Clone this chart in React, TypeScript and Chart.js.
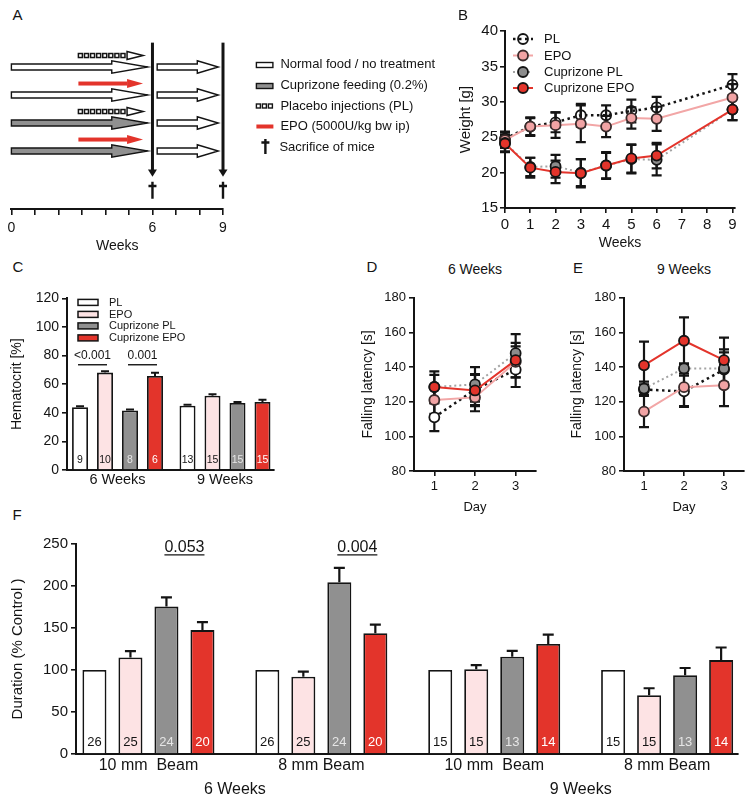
import React, { useEffect, useRef } from "react";
import { Chart, registerables } from "chart.js";

Chart.register(...registerables);

const FONT = "'Liberation Sans', Arial, Helvetica, sans-serif";
const INK = "#141414";
const RED = "#e3342b";
const PINK_MARK = "#f1a3a4";
const PINK_LINE = "#f2a6a6";
const PINK_BAR = "#fde3e4";
const GRAY_MARK = "#8c8c8c";
const GRAY_LINE = "#a3a3a3";
const GRAY_BAR = "#909090";

// ---------------- Panel A (study design) ----------------
const weeksA = [0, 1, 2, 3, 4, 5, 6, 7, 8, 9];
const weekLabelsA = ["0", "", "", "", "", "", "6", "", "", "9"];
const groupDiet = ["normal", "normal", "cuprizone", "cuprizone"];
const groupInjection = ["placebo", "epo", "placebo", "epo"];
const dietWeeks = [0, 5.8];
const recoveryWeeks = [6.2, 8.8];
const injectionWeeks = [2.85, 5.6];
const sacrificeWeeks = [6, 9];
const legendA = [
  "Normal food / no treatment",
  "Cuprizone feeding (0.2%)",
  "Placebo injections (PL)",
  "EPO (5000U/kg bw ip)",
  "Sacrifice of mice",
];

// ---------------- Panel B (weight) ----------------
const seriesNames = ["PL", "EPO", "Cuprizone PL", "Cuprizone EPO"];
const weeksB = [0, 1, 2, 3, 4, 5, 6, 9];
const weekTicksB = [0, 1, 2, 3, 4, 5, 6, 7, 8, 9];
const weightTicks = [15, 20, 25, 30, 35, 40];
const weightPL = [24.8, 26.5, 27.1, 28.1, 28.1, 28.7, 29.2, 32.4];
const weightPLErr = [1.0, 1.3, 1.4, 1.6, 1.4, 1.6, 1.5, 1.5];
const weightEPO = [24.6, 26.5, 26.7, 26.9, 26.5, 27.7, 27.6, 30.6];
const weightEPOErr = [1.1, 1.2, 1.8, 2.6, 1.5, 1.5, 1.7, 1.9];
const weightCupPL = [24.2, 20.8, 20.9, 20.0, 21.0, 21.9, 21.8, 28.9];
const weightCupPLErr = [1.2, 1.3, 1.6, 1.9, 1.8, 2.0, 2.2, 1.5];
const weightCupEPO = [24.1, 20.7, 20.1, 19.9, 21.0, 22.0, 22.4, 28.9];
const weightCupEPOErr = [1.2, 1.4, 1.6, 2.0, 1.9, 2.0, 1.8, 1.5];

// ---------------- Panel C (hematocrit) ----------------
const hctGroups = ["6 Weeks", "9 Weeks"];
const hctGroupIdx = [0, 1];
const hctTicks = [0, 20, 40, 60, 80, 100, 120];
const hctPL = [43.9, 45.0];
const hctPLErr = [0.6, 0.7];
const hctEPO = [68.1, 51.9];
const hctEPOErr = [1.0, 1.1];
const hctCupPL = [41.6, 46.9];
const hctCupPLErr = [0.7, 0.6];
const hctCupEPO = [65.8, 47.6];
const hctCupEPOErr = [2.2, 1.6];
const hctNPL = [9, 13];
const hctNEPO = [10, 15];
const hctNCupPL = [8, 15];
const hctNCupEPO = [6, 15];
const hctSigLabels = ["<0.001", "0.001"];
const hctSigGroup = [0, 0];
const hctSigFirst = [0, 2];
const hctSigSecond = [1, 3];
const hctSigLevel = [73.6, 73.6];

// ---------------- Panels D / E (rotarod) ----------------
const days = [1, 2, 3];
const latencyTicks = [80, 100, 120, 140, 160, 180];
const lat6PL = [111, 127, 138.5];
const lat6PLErr = [8, 9, 10];
const lat6EPO = [121, 122.5, 143];
const lat6EPOErr = [8, 8, 9];
const lat6CupPL = [128.5, 130, 148];
const lat6CupPLErr = [7, 10, 11];
const lat6CupEPO = [128.5, 126.5, 144];
const lat6CupEPOErr = [9, 9, 10];
const lat9PL = [127, 126, 138.5];
const lat9PLErr = [3, 9, 10];
const lat9EPO = [114.3, 128.4, 129.5];
const lat9EPOErr = [9, 11, 12];
const lat9CupPL = [127.6, 139.2, 139.2];
const lat9CupPLErr = [4, 3, 11];
const lat9CupEPO = [141, 155.2, 144];
const lat9CupEPOErr = [13.7, 13.5, 13];

// ---------------- Panel F (beam walking) ----------------
const beamGroups = ["10 mm  Beam", "8 mm Beam", "10 mm  Beam", "8 mm Beam"];
const beamGroupIdx = [0, 1, 2, 3];
const beamWeek = [0, 0, 1, 1];
const weekNames = ["6 Weeks", "9 Weeks"];
const durTicks = [0, 50, 100, 150, 200, 250];
const durPL = [100, 100, 100, 100];
const durPLErr = [0, 0, 0, 0];
const durEPO = [115, 92, 101, 70];
const durEPOErr = [7.4, 6, 4.7, 8.3];
const durCupPL = [175.5, 204.5, 115.7, 93.7];
const durCupPLErr = [11, 17, 7, 8.7];
const durCupEPO = [147.5, 143.7, 131, 111.8];
const durCupEPOErr = [9.5, 10.3, 11, 15];
const durNPL = [26, 26, 15, 15];
const durNEPO = [25, 25, 15, 15];
const durNCupPL = [24, 24, 13, 13];
const durNCupEPO = [20, 20, 14, 14];
const durSigLabels = ["0.053", "0.004"];
const durSigGroup = [0, 1];
const durSigFirst = [2, 2];
const durSigSecond = [3, 3];
const durSigLevel = [237, 237];

// ---------------- helpers ----------------
function makeAxis(o: any) {
  const isY = o.position === "left";
  return {
    type: "linear",
    position: o.position,
    display: o.display ?? true,
    min: o.min,
    max: o.max,
    bounds: "data",
    reverse: !!o.reverse,
    offset: false,
    z: o.z ?? 0,
    border: { display: true, color: INK, width: 2 },
    grid: {
      display: true,
      drawOnChartArea: false,
      drawTicks: o.drawTicks ?? true,
      tickLength: o.tickLength ?? 5,
      color: INK,
      lineWidth: 1.6,
      offset: false,
    },
    ticks: {
      color: INK,
      font: { family: FONT, size: o.fontSize ?? 13 },
      padding: o.padding ?? 3,
      autoSkip: false,
      maxRotation: 0,
      minRotation: 0,
      callback: (v: any, i: number) => (o.labels ? o.labels[i] : String(v)),
    },
    title: {
      display: !!o.title,
      text: o.title,
      color: INK,
      font: { family: FONT, size: o.titleSize ?? 14 },
      padding: 0,
    },
    afterBuildTicks: (s: any) => {
      s.ticks = (o.ticks || []).map((v: number) => ({ value: v }));
    },
    afterFit: (s: any) => {
      if (isY) s.width = o.size;
      else s.height = o.size;
    },
  };
}

function baseOptions(pad: any) {
  return {
    responsive: false,
    animation: false,
    devicePixelRatio: 1,
    events: [],
    layout: { padding: { top: 0, right: 0, left: 0, bottom: 0, ...pad }, autoPadding: false },
  };
}

const errorBarPlugin = {
  id: "errorBars",
  beforeDatasetsDraw(chart: any, _a: any, o: any) {
    if (o && o.under) drawErrors(chart, o);
  },
  afterDatasetsDraw(chart: any, _a: any, o: any) {
    if (o && !o.under) drawErrors(chart, o);
  },
};

function drawErrors(chart: any, o: any) {
  const ctx = chart.ctx;
  const ys = chart.scales.y;
  ctx.save();
  ctx.strokeStyle = INK;
  ctx.lineWidth = o.lineWidth;
  ctx.lineCap = "butt";
  chart.data.datasets.forEach((ds: any, di: number) => {
    if (!ds.errorBars) return;
    const meta = chart.getDatasetMeta(di);
    meta.data.forEach((el: any, i: number) => {
      const err = ds.errorBars[i];
      if (!err) return;
      const raw = ds.data[i];
      const v = typeof raw === "number" ? raw : raw.y;
      const x = el.x;
      const yTop = ys.getPixelForValue(v + err);
      const yBot = ys.getPixelForValue(o.upOnly ? v : v - err);
      const c = o.cap / 2;
      ctx.beginPath();
      ctx.moveTo(x, yBot);
      ctx.lineTo(x, yTop);
      ctx.moveTo(x - c, yTop);
      ctx.lineTo(x + c, yTop);
      if (!o.upOnly) {
        ctx.moveTo(x - c, yBot);
        ctx.lineTo(x + c, yBot);
      }
      ctx.stroke();
    });
  });
  ctx.restore();
}

const lineLegendPlugin = {
  id: "lineLegend",
  afterDraw(chart: any, _a: any, o: any) {
    if (!o || !o.rows) return;
    const { ctx, chartArea } = chart;
    ctx.save();
    chart.data.datasets.forEach((ds: any, i: number) => {
      const y = chartArea.top + o.rows[i];
      const x0 = chartArea.left + o.x0;
      const x1 = chartArea.left + o.x1;
      const xm = (x0 + x1) / 2;
      ctx.strokeStyle = ds.borderColor;
      ctx.lineWidth = ds.borderWidth;
      ctx.setLineDash(ds.borderDash || []);
      ctx.beginPath();
      ctx.moveTo(x0, y);
      ctx.lineTo(x1, y);
      ctx.stroke();
      ctx.setLineDash([]);
      ctx.beginPath();
      ctx.arc(xm, y, ds.pointRadius, 0, Math.PI * 2);
      ctx.fillStyle = ds.pointBackgroundColor;
      ctx.fill();
      ctx.lineWidth = ds.pointBorderWidth;
      ctx.strokeStyle = ds.pointBorderColor;
      ctx.stroke();
      ctx.fillStyle = INK;
      ctx.font = `${o.size}px ${FONT}`;
      ctx.textAlign = "left";
      ctx.textBaseline = "middle";
      ctx.fillText(ds.label, chartArea.left + o.textX, y + 0.5);
    });
    ctx.restore();
  },
};

const boxLegendPlugin = {
  id: "boxLegend",
  afterDraw(chart: any, _a: any, o: any) {
    if (!o || !o.rows) return;
    const { ctx, chartArea } = chart;
    ctx.save();
    chart.data.datasets.forEach((ds: any, i: number) => {
      const y = chartArea.top + o.rows[i];
      const x = chartArea.left + o.boxX;
      ctx.fillStyle = ds.backgroundColor;
      ctx.fillRect(x, y - o.boxH / 2, o.boxW, o.boxH);
      ctx.strokeStyle = INK;
      ctx.lineWidth = 1.5;
      ctx.strokeRect(x, y - o.boxH / 2, o.boxW, o.boxH);
      ctx.fillStyle = INK;
      ctx.font = `${o.size}px ${FONT}`;
      ctx.textAlign = "left";
      ctx.textBaseline = "middle";
      ctx.fillText(ds.label, chartArea.left + o.textX, y + 0.5);
    });
    ctx.restore();
  },
};

const barNotesPlugin = {
  id: "barNotes",
  afterDatasetsDraw(chart: any, _a: any, o: any) {
    if (!o) return;
    const { ctx, chartArea } = chart;
    const ys = chart.scales.y;
    const xs = chart.scales.x;
    ctx.save();
    ctx.textAlign = "center";
    chart.data.datasets.forEach((ds: any, di: number) => {
      const meta = chart.getDatasetMeta(di);
      ctx.fillStyle = ds.nColor;
      ctx.font = `${o.nSize}px ${FONT}`;
      ctx.textBaseline = "middle";
      meta.data.forEach((el: any, i: number) => {
        ctx.fillText(String(ds.nLabels[i]), el.x, chartArea.bottom - o.nOffset);
      });
    });
    (o.sigLabels || []).forEach((label: string, k: number) => {
      const a = chart.getDatasetMeta(o.sigFirst[k]).data[o.sigGroup[k]];
      const b = chart.getDatasetMeta(o.sigSecond[k]).data[o.sigGroup[k]];
      const y = ys.getPixelForValue(o.sigLevel[k]);
      const cx = (a.x + b.x) / 2;
      ctx.font = `${o.sigSize}px ${FONT}`;
      ctx.fillStyle = INK;
      ctx.textBaseline = "alphabetic";
      ctx.fillText(label, cx, y - o.sigGap);
      const half = o.underline ? ctx.measureText(label).width / 2 : (b.x - a.x) / 2 + 2;
      ctx.strokeStyle = INK;
      ctx.lineWidth = 1.4;
      ctx.beginPath();
      ctx.moveTo(cx - half, y);
      ctx.lineTo(cx + half, y);
      ctx.stroke();
    });
    if (o.spanNames) {
      ctx.font = `${o.spanSize}px ${FONT}`;
      ctx.fillStyle = INK;
      ctx.textBaseline = "middle";
      o.spanNames.forEach((name: string, w: number) => {
        const px: number[] = [];
        o.spanOf.forEach((sw: number, g: number) => {
          if (sw === w) px.push(xs.getPixelForValue(g));
        });
        const cx = px.reduce((s, v) => s + v, 0) / px.length;
        ctx.fillText(name, cx, chartArea.bottom + o.spanOffset);
      });
    }
    ctx.restore();
  },
};

function fatArrow(ctx: any, x0: number, x1: number, y: number, shaftH: number, headH: number, headLen: number, fill: string) {
  const xh = x1 - headLen;
  ctx.beginPath();
  ctx.moveTo(x0, y - shaftH / 2);
  ctx.lineTo(xh, y - shaftH / 2);
  ctx.lineTo(xh, y - headH / 2);
  ctx.lineTo(x1, y);
  ctx.lineTo(xh, y + headH / 2);
  ctx.lineTo(xh, y + shaftH / 2);
  ctx.lineTo(x0, y + shaftH / 2);
  ctx.closePath();
  ctx.fillStyle = fill;
  ctx.fill();
  ctx.lineWidth = 1.4;
  ctx.strokeStyle = INK;
  ctx.lineJoin = "miter";
  ctx.stroke();
}

function placeboArrow(ctx: any, x0: number, x1: number, y: number) {
  const headLen = 16;
  const xh = x1 - headLen;
  const n = 8;
  const step = (xh - x0) / n;
  ctx.lineWidth = 1.5;
  ctx.strokeStyle = INK;
  ctx.fillStyle = "#fff";
  for (let i = 0; i < n; i++) {
    const sx = x0 + i * step;
    ctx.fillRect(sx, y - 2, 4, 4);
    ctx.strokeRect(sx, y - 2, 4, 4);
  }
  ctx.beginPath();
  ctx.moveTo(xh, y - 4);
  ctx.lineTo(x1, y);
  ctx.lineTo(xh, y + 4);
  ctx.closePath();
  ctx.fill();
  ctx.stroke();
}

function epoArrow(ctx: any, x0: number, x1: number, y: number) {
  const headLen = 16;
  const xh = x1 - headLen;
  ctx.fillStyle = RED;
  ctx.fillRect(x0, y - 2, xh - x0, 4);
  ctx.beginPath();
  ctx.moveTo(xh, y - 4.5);
  ctx.lineTo(x1, y);
  ctx.lineTo(xh, y + 4.5);
  ctx.closePath();
  ctx.fill();
}

function dagger(ctx: any, x: number, yTop: number, yBot: number, yBar: number, half: number) {
  ctx.strokeStyle = INK;
  ctx.lineWidth = 2.4;
  ctx.beginPath();
  ctx.moveTo(x, yTop);
  ctx.lineTo(x, yBot);
  ctx.moveTo(x - half, yBar);
  ctx.lineTo(x + half, yBar);
  ctx.stroke();
}

const schematicPlugin = {
  id: "schematic",
  afterDraw(chart: any) {
    const { ctx, chartArea } = chart;
    const xs = chart.scales.x;
    const ys = chart.scales.y;
    const px = (w: number) => xs.getPixelForValue(w);
    const py = (r: number) => ys.getPixelForValue(r);
    ctx.save();
    groupDiet.forEach((diet, g) => {
      const y = py(g);
      fatArrow(ctx, px(dietWeeks[0]), px(dietWeeks[1]), y, 6, 12.5, 36, diet === "cuprizone" ? GRAY_BAR : "#fff");
      fatArrow(ctx, px(recoveryWeeks[0]), px(recoveryWeeks[1]), y, 6, 12.5, 21, "#fff");
      const yi = py(g - 0.41);
      if (groupInjection[g] === "placebo") placeboArrow(ctx, px(injectionWeeks[0]), px(injectionWeeks[1]), yi);
      else epoArrow(ctx, px(injectionWeeks[0]), px(injectionWeeks[1]), yi);
    });
    sacrificeWeeks.forEach((w) => {
      const x = px(w);
      ctx.strokeStyle = INK;
      ctx.lineWidth = 3;
      ctx.beginPath();
      ctx.moveTo(x, py(-0.87));
      ctx.lineTo(x, py(3.68));
      ctx.stroke();
      ctx.fillStyle = INK;
      ctx.beginPath();
      ctx.moveTo(x - 4.5, py(3.66));
      ctx.lineTo(x + 4.5, py(3.66));
      ctx.lineTo(x, py(3.92));
      ctx.closePath();
      ctx.fill();
      dagger(ctx, x, py(4.1), py(4.7), py(4.25), 4);
    });
    // legend
    const rows = [25, 46, 67, 87.5, 108];
    const ix = chartArea.left + 245;
    const tx = chartArea.left + 269;
    rows.forEach((r, i) => {
      const y = chartArea.top + r;
      ctx.lineWidth = 1.4;
      ctx.strokeStyle = INK;
      if (i === 0 || i === 1) {
        ctx.fillStyle = i === 0 ? "#fff" : GRAY_BAR;
        ctx.fillRect(ix, y - 1.5, 16.5, 5);
        ctx.strokeRect(ix, y - 1.5, 16.5, 5);
      } else if (i === 2) {
        ctx.fillStyle = "#fff";
        for (let k = 0; k < 3; k++) {
          ctx.fillRect(ix + k * 6, y - 2, 4, 4);
          ctx.strokeRect(ix + k * 6, y - 2, 4, 4);
        }
      } else if (i === 3) {
        ctx.fillStyle = RED;
        ctx.fillRect(ix, y - 2, 17, 4);
      } else {
        dagger(ctx, ix + 9, y - 8, y + 7, y - 4.5, 4);
      }
      ctx.fillStyle = INK;
      ctx.font = `13px ${FONT}`;
      ctx.textAlign = "left";
      ctx.textBaseline = "middle";
      ctx.fillText(legendA[i], i === 4 ? tx - 1 : tx, y);
    });
    ctx.restore();
  },
};

function lineStyles(openFill: string) {
  return [
    {
      borderColor: INK, borderWidth: 2.5, borderDash: [2.5, 3.5],
      pointBackgroundColor: openFill, pointBorderColor: INK, order: 4,
    },
    {
      borderColor: PINK_LINE, borderWidth: 2, borderDash: [],
      pointBackgroundColor: PINK_MARK, pointBorderColor: "#3a2b2b", order: 3,
    },
    {
      borderColor: GRAY_LINE, borderWidth: 2, borderDash: [2, 3],
      pointBackgroundColor: GRAY_MARK, pointBorderColor: INK, order: 2,
    },
    {
      borderColor: RED, borderWidth: 2, borderDash: [],
      pointBackgroundColor: RED, pointBorderColor: INK, order: 1,
    },
  ];
}

function lineSets(xv: number[], vals: number[][], errs: number[][], openFill: string) {
  const st = lineStyles(openFill);
  return vals.map((v, k) => ({
    label: seriesNames[k],
    data: xv.map((x, i) => ({ x, y: v[i] })),
    errorBars: errs[k],
    ...st[k],
    pointRadius: 5,
    pointBorderWidth: 1.8,
    pointHoverRadius: 5,
    tension: 0,
    clip: false,
  }));
}

const barFills = ["#ffffff", PINK_BAR, GRAY_BAR, RED];
const barNColors = [INK, INK, "#e6e6e6", "#ffffff"];

function barSets(vals: number[][], errs: number[][], ns: number[][], catPct: number, barPct: number) {
  return vals.map((v, k) => ({
    label: seriesNames[k],
    data: v.map((y, i) => ({ x: i, y })),
    errorBars: errs[k],
    nLabels: ns[k],
    nColor: barNColors[k],
    backgroundColor: barFills[k],
    borderColor: INK,
    borderWidth: 1.8,
    categoryPercentage: catPct,
    barPercentage: barPct,
  }));
}

// ---------------- chart configs ----------------
function configA() {
  return {
    type: "scatter",
    data: { datasets: [] },
    options: {
      ...baseOptions({ top: 9, left: 8, right: 227 }),
      plugins: { legend: { display: false }, tooltip: { enabled: false } },
      scales: {
        x: makeAxis({ position: "bottom", min: 0, max: 9, ticks: weeksA, labels: weekLabelsA, fontSize: 14, title: "Weeks", titleSize: 14, size: 46, tickLength: 6, padding: 4.5 }),
        y: makeAxis({ position: "left", display: false, min: -1, max: 5.07, reverse: true, ticks: [], size: 0 }),
      },
    },
    plugins: [schematicPlugin],
  };
}

function configB() {
  return {
    type: "line",
    data: {
      datasets: lineSets(
        weeksB,
        [weightPL, weightEPO, weightCupPL, weightCupEPO],
        [weightPLErr, weightEPOErr, weightCupPLErr, weightCupEPOErr],
        "rgba(255,255,255,0)"
      ),
    },
    options: {
      ...baseOptions({ top: 10, right: 10 }),
      plugins: {
        legend: { display: false },
        tooltip: { enabled: false },
        errorBars: { under: true, cap: 10, lineWidth: 2.2 },
        lineLegend: { rows: [8, 24.5, 41, 57], x0: 8, x1: 28, textX: 39, size: 13 },
      },
      scales: {
        x: makeAxis({ position: "bottom", min: 0, max: 9.1, ticks: weekTicksB, fontSize: 15, title: "Weeks", titleSize: 14, size: 44 }),
        y: makeAxis({ position: "left", min: 15, max: 40, ticks: weightTicks, fontSize: 15, title: "Weight [g]", titleSize: 15, size: 48, padding: 2 }),
      },
    },
    plugins: [errorBarPlugin, lineLegendPlugin],
  };
}

function configC() {
  return {
    type: "bar",
    data: {
      datasets: barSets(
        [hctPL, hctEPO, hctCupPL, hctCupEPO],
        [hctPLErr, hctEPOErr, hctCupPLErr, hctCupEPOErr],
        [hctNPL, hctNEPO, hctNCupPL, hctNCupEPO],
        0.93,
        0.64
      ),
    },
    options: {
      ...baseOptions({ top: 8, right: 5 }),
      plugins: {
        legend: { display: false },
        tooltip: { enabled: false },
        errorBars: { under: false, upOnly: true, cap: 8, lineWidth: 2 },
        boxLegend: { rows: [4, 16, 27.5, 39.5], boxX: 11, boxW: 20, boxH: 6, textX: 42, size: 11 },
        barNotes: {
          nSize: 10.5, nOffset: 10,
          sigLabels: hctSigLabels, sigGroup: hctSigGroup, sigFirst: hctSigFirst, sigSecond: hctSigSecond,
          sigLevel: hctSigLevel, sigSize: 12, sigGap: 5.5, underline: false,
        },
      },
      scales: {
        x: makeAxis({ position: "bottom", min: -0.47, max: 1.456, ticks: hctGroupIdx, labels: hctGroups, fontSize: 14.5, size: 20, drawTicks: false, padding: 1, z: 1 }),
        y: makeAxis({ position: "left", min: 0, max: 120, ticks: hctTicks, fontSize: 14, title: "Hematocrit [%]", titleSize: 14, size: 58, z: 1 }),
      },
    },
    plugins: [errorBarPlugin, barNotesPlugin, boxLegendPlugin],
  };
}

function configLatency(vals: number[][], errs: number[][], yW: number) {
  return {
    type: "line",
    data: { datasets: lineSets(days, vals, errs, "#ffffff") },
    options: {
      ...baseOptions({ top: 8, right: 8 }),
      plugins: {
        legend: { display: false },
        tooltip: { enabled: false },
        errorBars: { under: true, cap: 10, lineWidth: 2.2 },
      },
      scales: {
        x: makeAxis({ position: "bottom", min: 0.5, max: 3.5, ticks: days, fontSize: 13, title: "Day", titleSize: 13, size: 44 }),
        y: makeAxis({ position: "left", min: 80, max: 180, ticks: latencyTicks, fontSize: 13, title: "Falling latency [s]", titleSize: 14, size: yW }),
      },
    },
    plugins: [errorBarPlugin],
  };
}

function configF() {
  return {
    type: "bar",
    data: {
      datasets: barSets(
        [durPL, durEPO, durCupPL, durCupEPO],
        [durPLErr, durEPOErr, durCupPLErr, durCupEPOErr],
        [durNPL, durNEPO, durNCupPL, durNCupEPO],
        0.833,
        0.667
      ),
    },
    options: {
      ...baseOptions({ top: 10, right: 10 }),
      plugins: {
        legend: { display: false },
        tooltip: { enabled: false },
        errorBars: { under: false, upOnly: true, cap: 11, lineWidth: 2.2 },
        barNotes: {
          nSize: 13, nOffset: 12,
          sigLabels: durSigLabels, sigGroup: durSigGroup, sigFirst: durSigFirst, sigSecond: durSigSecond,
          sigLevel: durSigLevel, sigSize: 16, sigGap: 2.5, underline: true,
          spanNames: weekNames, spanOf: beamWeek, spanSize: 16, spanOffset: 36,
        },
      },
      scales: {
        x: makeAxis({ position: "bottom", min: -0.419, max: 3.41, ticks: beamGroupIdx, labels: beamGroups, fontSize: 16, size: 49, drawTicks: false, padding: 2, z: 1 }),
        y: makeAxis({ position: "left", min: 0, max: 250, ticks: durTicks, fontSize: 15, title: "Duration (% Control )", titleSize: 15, size: 67, z: 1 }),
      },
    },
    plugins: [errorBarPlugin, barNotesPlugin],
  };
}

// ---------------- components ----------------
function ChartBox({ left, top, width, height, make }: any) {
  const ref = useRef<HTMLCanvasElement>(null);
  useEffect(() => {
    const chart = new Chart(ref.current as HTMLCanvasElement, make() as any);
    return () => chart.destroy();
  }, []);
  return (
    <canvas
      ref={ref}
      width={width}
      height={height}
      style={{ position: "absolute", left, top, width, height }}
    />
  );
}

function Label({ x, y, size, text, center }: any) {
  return (
    <div
      style={{
        position: "absolute",
        left: x,
        top: y - 0.8465 * size,
        fontFamily: FONT,
        fontSize: size,
        lineHeight: `${size}px`,
        whiteSpace: "nowrap",
        color: INK,
        transform: center ? "translateX(-50%)" : undefined,
      }}
    >
      {text}
    </div>
  );
}

export default function App() {
  return (
    <div
      style={{
        position: "absolute",
        left: 0,
        top: 0,
        width: 752,
        height: 803,
        background: "#ffffff",
        overflow: "hidden",
      }}
    >
      <ChartBox left={3} top={30} width={447} height={225} make={configA} />
      <ChartBox left={457} top={20} width={288} height={232} make={configB} />
      <ChartBox left={9} top={287} width={270} height={203} make={configC} />
      <ChartBox
        left={360}
        top={287}
        width={184}
        height={228}
        make={() =>
          configLatency(
            [lat6PL, lat6EPO, lat6CupPL, lat6CupEPO],
            [lat6PLErr, lat6EPOErr, lat6CupPLErr, lat6CupEPOErr],
            54
          )
        }
      />
      <ChartBox
        left={569}
        top={287}
        width={183}
        height={228}
        make={() =>
          configLatency(
            [lat9PL, lat9EPO, lat9CupPL, lat9CupEPO],
            [lat9PLErr, lat9EPOErr, lat9CupPLErr, lat9CupEPOErr],
            55
          )
        }
      />
      <ChartBox left={9} top={532} width={739} height={271} make={configF} />

      <Label x={12.5} y={20} size={15} text="A" />
      <Label x={458} y={20} size={15} text="B" />
      <Label x={12.5} y={272} size={15} text="C" />
      <Label x={366.5} y={272} size={15} text="D" />
      <Label x={573} y={273} size={15} text="E" />
      <Label x={12.5} y={520} size={15} text="F" />
      <Label x={475} y={274} size={14} text="6 Weeks" center />
      <Label x={684} y={274} size={14} text="9 Weeks" center />
    </div>
  );
}
